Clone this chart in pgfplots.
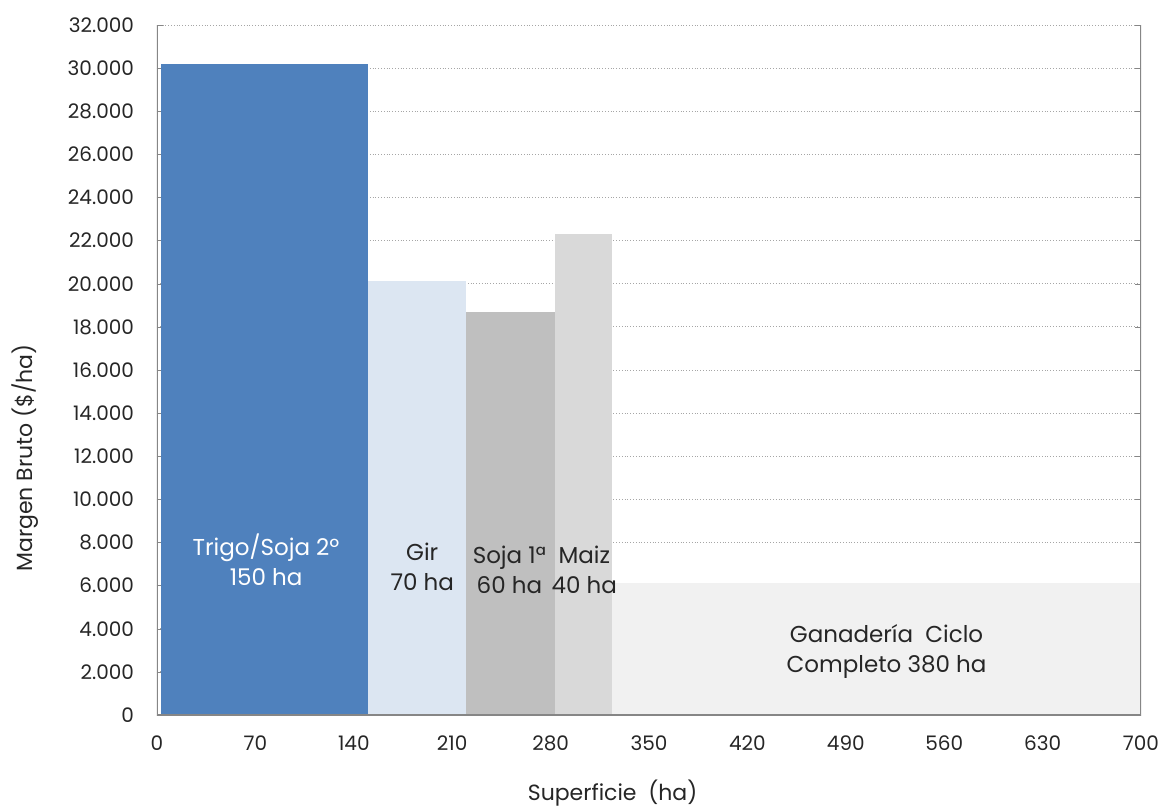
\documentclass[border=0pt]{standalone}
\usepackage{fontspec}
\setmainfont{Poppins}
\usepackage{pgfplots}
\pgfplotsset{compat=1.18}
\definecolor{cTrigo}{HTML}{4F81BD}
\definecolor{cGir}{HTML}{DCE6F2}
\definecolor{cSoja}{HTML}{BFBFBF}
\definecolor{cMaiz}{HTML}{D9D9D9}
\definecolor{cGan}{HTML}{F1F1F1}
\definecolor{axgray}{HTML}{868686}
\definecolor{txt}{HTML}{262626}
\newcommand{\lbl}{\fontsize{11.5}{15}\selectfont}
\begin{document}
\begin{tikzpicture}
\begin{axis}[
  at={(0,0)}, anchor=south west,
  scale only axis, width=492pt, height=345pt,
  xmin=0, xmax=700, ymin=0, ymax=32000,
  xtick distance=70, ytick distance=2000,
  scaled ticks=false,
  /pgf/number format/1000 sep={.},
  /pgf/number format/assume math mode=true,
  ticklabel style={font=\fontsize{10}{12}\selectfont, text=txt},
  yticklabel style={xshift=-8pt},
  xticklabel style={yshift=-7pt},
  ymajorgrids, grid style={densely dotted, gray!70, line width=0.5pt},
  axis line style={draw=none},
  ytick style={axgray}, xtick style={draw=none},
  tick align=inside, major tick length=3pt,
  xlabel={Superficie\ \ (ha)}, ylabel={Margen Bruto (\$/ha)},
  every axis x label/.style={at={(axis description cs:0.463,-0.113)}, anchor=center, font=\fontsize{11}{13}\selectfont, text=txt},
  every axis y label/.style={at={(axis description cs:-0.134,0.3725)}, rotate=90, anchor=center, font=\fontsize{11}{13}\selectfont, text=txt},
]
\addplot[draw=none, fill=cTrigo] coordinates {(3,0) (3,30200) (150,30200) (150,0)} -- cycle;
\addplot[draw=none, fill=cGir] coordinates {(150,0) (150,20150) (220,20150) (220,0)} -- cycle;
\addplot[draw=none, fill=cSoja] coordinates {(220,0) (220,18700) (283,18700) (283,0)} -- cycle;
\addplot[draw=none, fill=cMaiz] coordinates {(283,0) (283,22300) (324,22300) (324,0)} -- cycle;
\addplot[draw=none, fill=cGan] coordinates {(324,0) (324,6100) (700,6100) (700,0)} -- cycle;
\draw[axgray, line width=0.75pt] (rel axis cs:0,1) -- (rel axis cs:0,0) -- (rel axis cs:1,0) -- (rel axis cs:1,1);
\node[text=white, align=center, font=\lbl] at (axis cs:77.6,7190) {Trigo/Soja 2º\\150 ha};
\node[text=txt, align=center, font=\lbl] at (axis cs:188.7,6865) {Gir\\70 ha};
\node[text=txt, align=center, font=\lbl] at (axis cs:250.7,6725) {Soja 1ª\\60 ha};
\node[text=txt, align=center, font=\lbl] at (axis cs:304,6725) {Maiz\\40 ha};
\node[text=txt, align=center, font=\lbl] at (axis cs:519,2968) {Ganadería\ \ Ciclo\\Completo 380 ha};
\end{axis}
\pgfresetboundingbox
\path (-78.5pt,-45pt) rectangle (502pt,357.5pt);
\end{tikzpicture}
\end{document}
